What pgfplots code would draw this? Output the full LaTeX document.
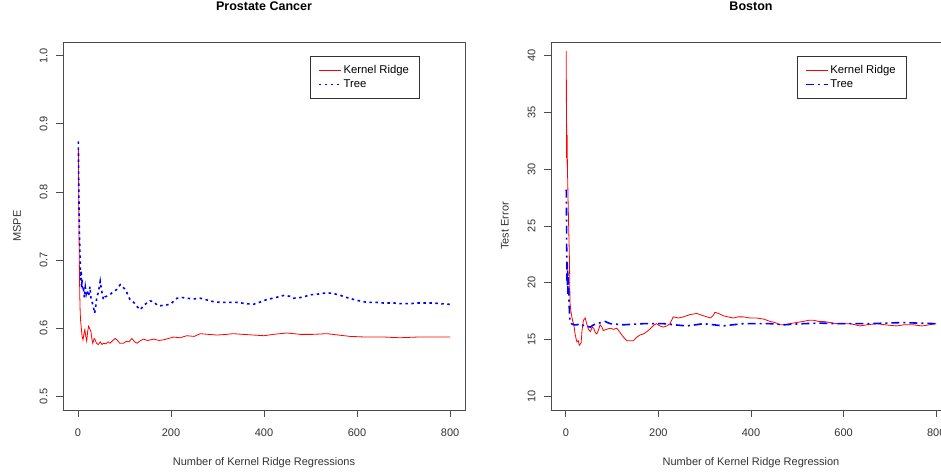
\documentclass[border=0pt]{standalone}
\usepackage{pgfplots}
\pgfplotsset{compat=1.18}
\usepackage{fontspec}
\setmainfont{Liberation Sans}

\definecolor{rred}{RGB}{255,0,0}
\definecolor{rblue}{RGB}{0,0,255}

\pgfplotsset{rplot/.style={
  scale only axis, width=402pt, height=368pt,
  xmin=-32, xmax=832,
  xtick={0,200,400,600,800}, xticklabels={0,200,400,600,800},
  tick align=outside, xtick pos=bottom, ytick pos=left,
  major tick length=7pt,
  axis line style={black!70, line width=0.7pt},
  every tick/.style={black!70, line width=0.7pt},
  tick label style={font=\fontsize{11}{13}\selectfont, text=black!80},
  label style={font=\fontsize{11}{13}\selectfont, text=black!80},
  title style={font=\bfseries\fontsize{12.5}{14}\selectfont, at={(axis description cs:0.5,1)}, anchor=base, yshift=25pt},
  xlabel style={at={(axis description cs:0.5,0)}, anchor=base, yshift=-56pt},
  xticklabel style={yshift=-8pt},
  yticklabel style={xshift=-5pt, rotate=90, anchor=south},
  legend cell align=left,
  legend style={at={(0.614,0.962)}, anchor=north west, draw=black!80,
    font=\fontsize{11.3}{13}\selectfont, inner xsep=8pt, inner ysep=7pt, row sep=1pt},
  legend image code/.code={\draw[##1] (0pt,0pt) -- (22pt,0pt);},
}}

\begin{document}
\begin{tikzpicture}[x=1pt,y=1pt]

% left panel
\begin{axis}[rplot, at={(63pt,63pt)}, anchor=south west,
  ymin=0.48, ymax=1.02,
  ytick={0.5,0.6,0.7,0.8,0.9,1.0}, yticklabels={0.5,0.6,0.7,0.8,0.9,1.0},
  title={Prostate Cancer},
  xlabel={Number of Kernel Ridge Regressions},
  ylabel={MSPE},
  ylabel style={at={(axis description cs:-0.1144,0.5)}, anchor=center, rotate=0},
]
\addplot[rred, line width=0.8pt] coordinates {
(1,0.862) (2,0.78) (3,0.70) (4,0.65) (5,0.622) (6,0.61) (7,0.603) (8,0.595)
(9,0.588) (11,0.583) (13,0.592) (15,0.598) (17,0.588) (19,0.581) (21,0.595)
(23,0.603) (25,0.600) (28,0.595) (30,0.585) (32,0.578) (35,0.585) (37,0.583)
(40,0.578) (44,0.576) (48,0.580) (52,0.576) (55,0.578) (60,0.577) (65,0.580)
(69,0.578) (75,0.582) (80,0.585) (84,0.583) (90,0.578) (98,0.578) (105,0.581)
(110,0.580) (116,0.585) (122,0.580) (127,0.578) (135,0.582) (141,0.584)
(150,0.582) (163,0.584) (175,0.582) (184,0.583) (195,0.585) (205,0.587)
(220,0.586) (234,0.589) (250,0.588) (263,0.592) (280,0.591) (299,0.590)
(320,0.591) (334,0.592) (355,0.591) (377,0.590) (400,0.589) (420,0.591)
(449,0.593) (478,0.591) (505,0.591) (535,0.592) (560,0.590) (585,0.588)
(621,0.587) (660,0.587) (692,0.586) (728,0.587) (760,0.587) (800,0.587)
};
\addlegendentry{Kernel Ridge}
\addplot[rblue, line width=1.6pt, dash pattern=on 2.5pt off 3.5pt] coordinates {
(1,0.874) (2,0.80) (3,0.75) (4,0.72) (5,0.70) (6,0.671) (7,0.685) (8,0.66)
(9,0.672) (10,0.655) (12,0.657) (14,0.645) (16,0.660) (18,0.650) (20,0.655)
(23,0.647) (26,0.661) (28,0.645) (30,0.640) (33,0.632) (36,0.622) (38,0.630)
(41,0.647) (44,0.652) (48,0.669) (51,0.655) (55,0.642) (58,0.646) (62,0.647)
(70,0.650) (77,0.654) (84,0.657) (91,0.664) (97,0.660) (102,0.657) (108,0.648)
(112,0.642) (120,0.638) (127,0.632) (134,0.627) (141,0.633) (148,0.637)
(155,0.640) (163,0.639) (170,0.634) (177,0.633) (188,0.634) (198,0.635)
(205,0.639) (213,0.644) (225,0.645) (234,0.644) (250,0.643) (263,0.644)
(280,0.641) (291,0.639) (305,0.638) (320,0.638) (340,0.638) (363,0.636)
(377,0.635) (390,0.638) (406,0.642) (425,0.645) (442,0.648) (455,0.647)
(463,0.644) (478,0.645) (490,0.647) (499,0.649) (515,0.650) (535,0.652)
(549,0.651) (565,0.648) (578,0.645) (599,0.641) (621,0.638) (640,0.638)
(657,0.637) (680,0.637) (692,0.636) (714,0.636) (730,0.637) (743,0.637)
(764,0.637) (780,0.636) (800,0.635)
};
\addlegendentry{Tree}
\end{axis}

% right panel
\begin{axis}[rplot, at={(551pt,63pt)}, anchor=south west,
  width=400pt,
  ymin=8.8, ymax=41.2,
  ytick={10,15,20,25,30,35,40}, yticklabels={10,15,20,25,30,35,40},
  title={Boston},
  xlabel={Number of Kernel Ridge Regression},
  ylabel={Test Error},
  ylabel style={at={(axis description cs:-0.115,0.5)}, anchor=center, rotate=0},
]
\addplot[rred, line width=0.8pt] coordinates {
(1,40.4) (1.5,31) (2,34) (2.5,30.5) (3,33) (3.5,29.4) (4,29.2) (5,27) (6,25.2)
(7,23.5) (8,21.7) (9,18.2) (11,17.5) (13,17) (15,16.6) (17,16.4) (20,15.5)
(22,15.1) (24,14.8) (27,14.9) (29,14.5) (31,14.6) (33,14.7) (35,15.8) (38,16.7)
(42,16.9) (45,16.4) (49,15.9) (53,15.7) (57,16.1) (60,16) (64,15.6) (67,15.5)
(71,15.9) (74,16.3) (78,16.1) (81,15.8) (88,15.9) (96,16) (103,15.9) (110,16)
(116,15.7) (121,15.4) (127,15.1) (132,14.9) (139,14.9) (146,14.9) (153,15.2)
(160,15.4) (168,15.5) (175,15.7) (181,15.9) (186,16.1) (191,16.3) (196,16.4)
(203,16.2) (211,16.1) (218,16.2) (225,16.4) (232,17) (243,16.9) (254,17)
(268,17.2) (283,17.3) (290,17.2) (297,17.1) (305,17) (312,16.9) (318,17.1)
(322,17.4) (330,17.3) (340,17.1) (350,17.0) (362,16.9) (372,17.0) (383,17.0)
(398,16.9) (412,16.9) (428,16.8) (441,16.6) (452,16.5) (463,16.3) (474,16.3)
(484,16.4) (498,16.5) (513,16.6) (525,16.7) (535,16.7) (546,16.6) (556,16.6)
(570,16.5) (585,16.4) (600,16.4) (614,16.4) (625,16.3) (635,16.2) (650,16.3)
(671,16.4) (690,16.3) (714,16.2) (730,16.3) (750,16.3) (770,16.2) (785,16.3)
(800,16.4)
};
\addlegendentry{Kernel Ridge}
\addplot[rblue, line width=1.6pt, dash pattern=on 8pt off 4pt on 2pt off 4pt] coordinates {
(1,28.2) (1.5,26) (2,22.3) (2.5,20.2) (3,21.8) (3.5,19.8) (4,21.1) (4.5,19)
(5,20.5) (6,19.9) (7,18.2) (8,17.3) (9,16.6) (12,16.4) (17,16.3) (24,16.3)
(31,16.4) (40,16.2) (53,16.1) (60,16.3) (67,16.4) (76,16.5) (85,16.6) (90,16.5)
(96,16.4) (110,16.35) (124,16.3) (145,16.35) (168,16.4) (190,16.4) (211,16.4)
(235,16.3) (261,16.2) (280,16.3) (297,16.4) (320,16.3) (340,16.2) (360,16.3)
(383,16.4) (410,16.4) (441,16.4) (470,16.3) (490,16.35) (513,16.4) (550,16.45)
(585,16.4) (620,16.4) (657,16.4) (690,16.45) (729,16.5) (760,16.45) (800,16.4)
};
\addlegendentry{Tree}
\end{axis}

\pgfresetboundingbox
\path[use as bounding box] (0pt,0pt) rectangle (941pt,473pt);
\end{tikzpicture}
\end{document}
